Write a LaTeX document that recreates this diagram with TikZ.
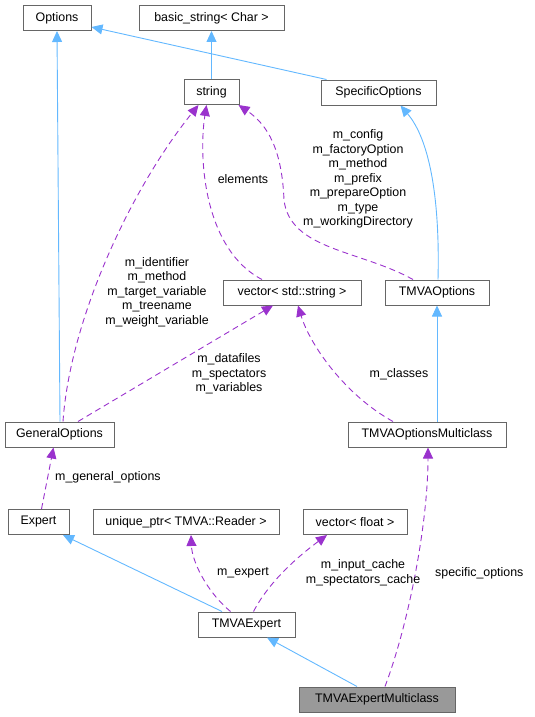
\documentclass[tikz,border=0pt]{standalone}
\usepackage{fontspec}
\setmainfont{Liberation Sans}
\usepackage{tikz}
\usetikzlibrary{arrows.meta, positioning}
\definecolor{edgeblue}{RGB}{99, 184, 255}
\definecolor{edgepurple}{RGB}{154, 50, 205}
\definecolor{boxgray}{RGB}{102, 102, 102}
\definecolor{boxfill}{RGB}{153, 153, 153}

\begin{document}
\begin{tikzpicture}[
			x=1pt, y=-1pt,
			font=\fontsize{12.4}{14.5}\selectfont,
			box/.style={rectangle, draw=boxgray, line width=1pt, fill=white, inner sep=0pt,
				minimum height=25pt, align=center},
			inherit/.style={-{Triangle[length=11pt, width=10pt]}, line width=0.9pt, color=edgeblue},
			usage/.style={-{Triangle[length=11pt, width=10pt]}, line width=0.9pt, color=edgepurple,
				dash pattern=on 6pt off 4pt},
			lbl/.style={align=center, inner sep=0pt}
			]
			\useasboundingbox (0,0) rectangle (535,717);
			% classes
			\node[box, minimum width=68pt] (options) at (57,18) {Options};
			\node[box, minimum width=145pt] (basic) at (211.5,18) {basic\_string< Char >};
			\node[box, minimum width=55pt] (string) at (211.5,92) {string};
			\node[box, minimum width=115pt] (specopt) at (378.5,92.5) {SpecificOptions};
			\node[box, minimum width=138pt] (vecstr) at (292,292.5) {vector< std::string >};
			\node[box, minimum width=104pt] (tmvaopt) at (437,292.5) {TMVAOptions};
			\node[box, minimum width=109pt] (genopt) at (59.5,434.5) {GeneralOptions};
			\node[box, minimum width=158pt] (tmvamc) at (427,434.5) {TMVAOptionsMulticlass};
			\node[box, minimum width=61pt] (expert) at (38.5,522) {Expert};
			\node[box, minimum width=186pt] (uniq) at (186,522) {unique\_ptr< TMVA::Reader >};
			\node[box, minimum width=104pt] (vecflt) at (355,522) {vector< float >};
			\node[box, minimum width=97pt] (tmvaexp) at (246.5,624.5) {TMVAExpert};
			\node[box, minimum width=156pt, fill=boxfill] (tmvaexpmc) at (377,699.5) {TMVAExpertMulticlass};
			
			% inheritance
			\draw[inherit] ([xshift=0.5pt]genopt.north) -- (options.south);
			\draw[inherit] ([xshift=6pt]specopt.north west) -- ([yshift=4pt]options.south east);
			\draw[inherit] (string.north) -- (basic.south);
			\draw[inherit] ([xshift=1pt]tmvaopt.north) .. controls (440,200) and (430,140) .. ([xshift=22pt]specopt.south);
			\draw[inherit] ([xshift=10pt]tmvamc.north) -- (tmvaopt.south);
			\draw[inherit] ([xshift=-24.5pt]tmvaexp.north) -- ([xshift=24.5pt]expert.south);
			\draw[inherit] ([xshift=-20pt]tmvaexpmc.north) -- ([xshift=20.5pt]tmvaexp.south);
			
			% members
			\draw[usage] ([xshift=3.5pt]genopt.north) .. controls (70,320) and (130,190) .. ([xshift=-13pt]string.south);
			\draw[usage] ([xshift=-30pt]vecstr.north) .. controls (205,250) and (198,160) .. ([xshift=-5pt]string.south);
			\draw[usage] ([xshift=-24pt]tmvaopt.north) .. controls (360,250) and (290,250) .. (284,200)
				.. controls (282,150) and (268,125) .. ([xshift=-1pt]string.south east);
			\draw[usage] ([xshift=18.5pt]genopt.north) -- ([xshift=-19pt]vecstr.south);
			\draw[usage] ([xshift=-34pt]tmvamc.north) .. controls (345,395) and (310,345) .. ([xshift=6pt]vecstr.south);
			\draw[usage] ([xshift=3pt]expert.north) -- ([xshift=-6pt]genopt.south);
			\draw[usage] ([xshift=-16pt]tmvaexp.north) .. controls (205,590) and (192,560) .. ([xshift=5pt]uniq.south);
			\draw[usage] ([xshift=7pt]tmvaexp.north) .. controls (270,580) and (300,555) .. ([xshift=-28pt]vecflt.south);
			\draw[usage] ([xshift=8pt]tmvaexpmc.north) .. controls (410,620) and (428,520) .. ([xshift=1pt]tmvamc.south);
			
			% labels
			\node[lbl] (lblgen) at (157,292) {m\_identifier\\m\_method\\m\_target\_variable\\m\_treename\\m\_weight\_variable};
			\node[lbl] (lblelem) at (243,179) {elements};
			\node[lbl] (lblcfg) at (358,179) {m\_config\\m\_factoryOption\\m\_method\\m\_prefix\\m\_prepareOption\\m\_type\\m\_workingDirectory};
			\node[lbl] (lbldata) at (229,374) {m\_datafiles\\m\_spectators\\m\_variables};
			\node[lbl] (lblcls) at (399,374) {m\_classes};
			\node[lbl, anchor=west] (lblgo) at (55,477) {m\_general\_options};
			\node[lbl] (lblexp) at (243,573) {m\_expert};
			\node[lbl] (lblcache) at (363,573) {m\_input\_cache\\m\_spectators\_cache};
			\node[lbl, anchor=west] (lblspec) at (435,573) {specific\_options};
		\end{tikzpicture}
\end{document}
